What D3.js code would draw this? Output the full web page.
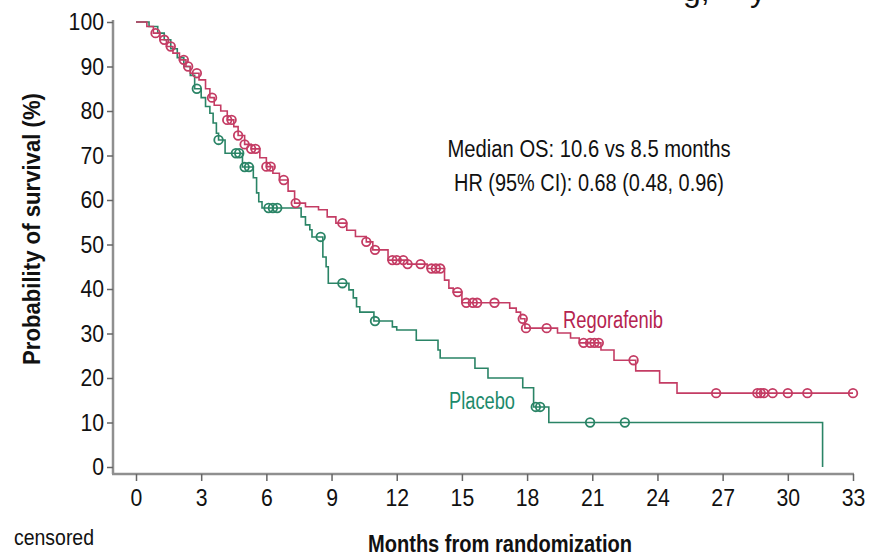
<!DOCTYPE html>
<html>
<head>
<meta charset="utf-8">
<script src="https://cdn.jsdelivr.net/npm/d3@7"></script>
<style>
  html, body { margin: 0; padding: 0; background: #fff; }
  svg { display: block; }
  text { font-family: "Liberation Sans", Arial, sans-serif; }
</style>
</head>
<body>
<svg id="chart" width="875" height="557"></svg>
<script>
// ---------- DATA ----------
const xTicks = [0, 3, 6, 9, 12, 15, 18, 21, 24, 27, 30, 33];
const yTicks = [0, 10, 20, 30, 40, 50, 60, 70, 80, 90, 100];

// Regorafenib Kaplan-Meier steps (months, survival %)
const regTimes = [0, 0.5, 0.8, 1.1, 1.4, 1.7, 2.0, 2.3, 2.5, 2.9, 3.2, 3.4, 3.6, 3.9, 4.2, 4.5, 4.7, 5.0, 5.3, 5.7,
  6.0, 6.3, 6.6, 7.0, 7.3, 7.8, 8.4, 8.8, 9.2, 9.7, 10.1, 10.6, 10.9, 11.6, 12.5, 13.4, 14.2, 14.4, 14.6, 15.0,
  17.2, 17.5, 17.7, 17.9, 19.4, 20.0, 20.4, 21.4, 22.0, 23.0, 24.1, 24.9];
const regSurv = [100, 99, 97.5, 96, 94.5, 93, 91.5, 90, 88.5, 87, 85, 83, 81.3, 80, 78, 76.5, 74.5, 72.5, 71.5, 69.5,
  67.5, 66, 64.5, 62, 59.3, 58.5, 57.8, 56.2, 54.8, 53.2, 51.8, 50.6, 48.8, 46.5, 45.6, 44.6, 42, 40.2, 39.3, 36.9,
  35.7, 34.8, 33.3, 31.2, 30.1, 29, 27.9, 26.3, 24, 21.6, 18.9, 16.6];
const regEnd = 33;
const regCensor = [0.9, 1.3, 1.6, 2.2, 2.4, 2.8, 3.5, 4.2, 4.4, 4.7, 5.0, 5.3, 5.5, 6.0, 6.2, 6.8, 7.35, 9.5, 10.6, 11.0,
  11.8, 12.0, 12.3, 12.5, 13.1, 13.6, 13.8, 14.0, 14.8, 15.2, 15.5, 15.7, 16.5, 17.8, 17.95, 18.9,
  20.6, 20.9, 21.1, 21.3, 22.9, 26.7, 28.6, 28.75, 28.9, 29.3, 30.0, 30.9, 33.0];

// Placebo Kaplan-Meier steps
const plaTimes = [0, 0.6, 1.0, 1.3, 1.6, 1.9, 2.2, 2.5, 2.7, 3.0, 3.2, 3.4, 3.55, 3.7, 3.8, 4.1, 4.9, 5.4, 5.55, 5.65,
  5.8, 7.6, 7.8, 8.0, 8.1, 8.6, 8.75, 8.85, 9.8, 10.0, 10.15, 10.3, 10.95, 11.8, 12.0, 12.9, 13.9, 14.0, 15.6, 16.2,
  17.8, 18.3, 19.0, 31.6];
const plaSurv = [100, 99, 97.5, 96, 94, 92, 90, 88, 85, 83, 81, 79.5, 77.3, 75, 73.5, 70.5, 67.4, 65, 61.6, 59.6,
  58.2, 56.2, 54.4, 53.3, 51.7, 47.2, 45, 41.3, 39.8, 38, 36, 34.8, 32.8, 31.5, 30.8, 28.5, 26.3, 24.5, 22.2, 20,
  17.8, 13.5, 10, 0];
const plaCensor = [2.8, 3.8, 4.6, 4.75, 5.0, 5.2, 6.1, 6.3, 6.5, 8.5, 9.5, 11.0, 18.4, 18.6, 20.9, 22.5];

const annotation = ["Median OS: 10.6 vs 8.5 months", "HR (95% CI): 0.68 (0.48, 0.96)"];

// ---------- STYLE ----------
const regColor = "#c43c64", regText = "#b5234f";
const plaColor = "#2a8466", plaText = "#1d8a6b";
const axisColor = "#8f8f8f";

const svg = d3.select("#chart");
const x = d3.scaleLinear().domain([0, 33]).range([136, 853]);
const y = d3.scaleLinear().domain([0, 100]).range([467, 22]);
const axisX = 113, axisY = 474;

// condensed text helper: squeeze glyphs to a target width
function squeeze(sel, w) {
  sel.attr("textLength", w).attr("lengthAdjust", "spacingAndGlyphs");
}

// axes lines
svg.append("line").attr("x1", axisX).attr("x2", axisX).attr("y1", y(100) - 2).attr("y2", axisY)
  .attr("stroke", axisColor).attr("stroke-width", 2.5);
svg.append("line").attr("x1", axisX - 1).attr("x2", x(33) + 1).attr("y1", axisY).attr("y2", axisY)
  .attr("stroke", axisColor).attr("stroke-width", 2.5);

const gy = svg.append("g").attr("transform", `translate(${axisX},0)`)
  .call(d3.axisLeft(y).tickValues(yTicks).tickSize(6).tickPadding(3));
gy.select(".domain").remove();
gy.selectAll(".tick line").attr("stroke", "#666").attr("stroke-width", 1.5);
gy.selectAll(".tick text").attr("font-size", 24).attr("fill", "#111")
  .attr("font-family", "Liberation Sans, Arial, sans-serif")
  .each(function(d) { squeeze(d3.select(this), 11.8 * String(d).length); });

const gx = svg.append("g").attr("transform", `translate(0,${axisY})`)
  .call(d3.axisBottom(x).tickValues(xTicks).tickSize(7).tickPadding(8));
gx.select(".domain").remove();
gx.selectAll(".tick line").attr("stroke", "#666").attr("stroke-width", 1.5);
gx.selectAll(".tick text").attr("font-size", 24).attr("fill", "#111")
  .attr("font-family", "Liberation Sans, Arial, sans-serif")
  .each(function(d) { squeeze(d3.select(this), 11.8 * String(d).length); });

// curves
function stepAt(times, surv, t) {
  let s = surv[0];
  for (let i = 0; i < times.length; i++) { if (times[i] <= t) s = surv[i]; }
  return s;
}
const line = d3.line().x(d => x(d[0])).y(d => y(d[1])).curve(d3.curveStepAfter);

const plaPts = plaTimes.map((t, i) => [t, plaSurv[i]]);
const regPts = regTimes.map((t, i) => [t, regSurv[i]]);
regPts.push([regEnd, regSurv[regSurv.length - 1]]);

function drawArm(pts, times, surv, censor, color) {
  svg.append("path").datum(pts).attr("d", line).attr("fill", "none")
    .attr("stroke", color).attr("stroke-width", 1.6);
  svg.append("g").selectAll("circle").data(censor).join("circle")
    .attr("cx", d => x(d)).attr("cy", d => y(stepAt(times, surv, d)))
    .attr("r", 4.3).attr("fill", "none").attr("stroke", color).attr("stroke-width", 1.8);
}
drawArm(plaPts, plaTimes, plaSurv, plaCensor, plaColor);
drawArm(regPts, regTimes, regSurv, regCensor, regColor);

// labels
svg.append("text").attr("x", 563).attr("y", 328).attr("font-size", 23).attr("fill", regText)
  .text("Regorafenib").call(squeeze, 100);
svg.append("text").attr("x", 449).attr("y", 409).attr("font-size", 23).attr("fill", plaText)
  .text("Placebo").call(squeeze, 66);

svg.selectAll(".ann").data(annotation).join("text").attr("class", "ann")
  .attr("x", 589).attr("y", (d, i) => 157 + i * 34).attr("text-anchor", "middle")
  .attr("font-size", 23).attr("fill", "#111").text(d => d)
  .each(function(d, i) { squeeze(d3.select(this), i === 0 ? 283 : 270); });

svg.append("text").attr("transform", "translate(40,229) rotate(-90)").attr("text-anchor", "middle")
  .attr("font-size", 24).attr("font-weight", "bold").attr("fill", "#111")
  .text("Probability of survival (%)").call(squeeze, 272);
svg.append("text").attr("x", 500).attr("y", 552).attr("text-anchor", "middle")
  .attr("font-size", 23).attr("font-weight", "bold").attr("fill", "#111")
  .text("Months from randomization").call(squeeze, 264);
svg.append("text").attr("x", 14).attr("y", 545).attr("font-size", 22).attr("fill", "#111")
  .text("censored").call(squeeze, 80);

// clipped title fragment at top
svg.append("text").attr("x", 683).attr("y", 1).attr("font-size", 32).attr("fill", "#111")
  .attr("font-family", "Open Sans, sans-serif").text("g,");
svg.append("text").attr("x", 750).attr("y", 1).attr("font-size", 32).attr("fill", "#111")
  .attr("font-family", "Open Sans, sans-serif").text("y");
</script>
</body>
</html>
